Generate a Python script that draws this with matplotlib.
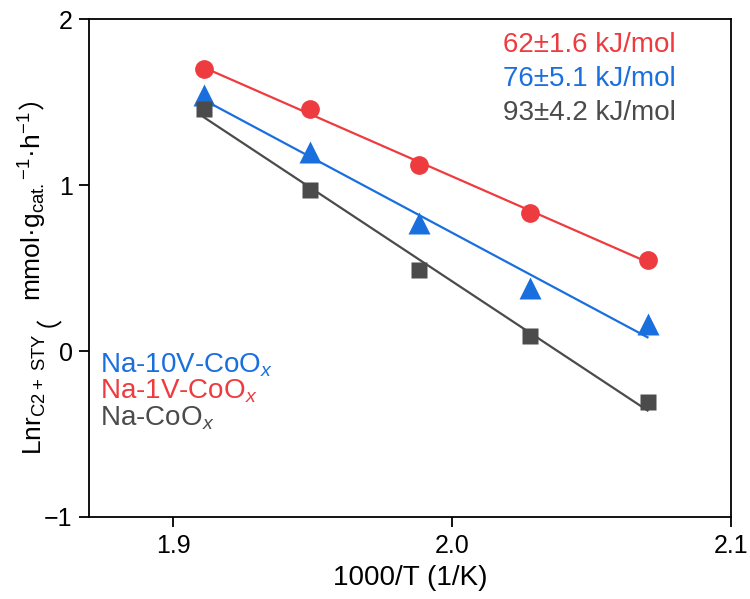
import numpy as np
import matplotlib
matplotlib.use("Agg")
import matplotlib.pyplot as plt

plt.rcParams['font.family'] = ['Liberation Sans', 'DejaVu Sans']
plt.rcParams['mathtext.fontset'] = 'custom'
plt.rcParams['mathtext.rm'] = 'Liberation Sans'
plt.rcParams['mathtext.it'] = 'Liberation Sans:italic'

# 1000/T values and ln(STY) for each catalyst
inv_t = [1.911, 1.949, 1.988, 2.028, 2.070]
ln_1v = [1.70, 1.46, 1.12, 0.83, 0.55]
ln_10v = [1.54, 1.20, 0.77, 0.38, 0.16]
ln_base = [1.46, 0.97, 0.49, 0.09, -0.31]

labels = ['Na-10V-CoO$_{\\it{x}}$', 'Na-1V-CoO$_{\\it{x}}$', 'Na-CoO$_{\\it{x}}$']
energies = ['62±1.6 kJ/mol', '76±5.1 kJ/mol', '93±4.2 kJ/mol']

red = '#EE3B3F'
blue = '#1A6FDF'
gray = '#4B4B4B'

fig = plt.figure(figsize=(7.5, 5.99), dpi=100)
ax = fig.add_axes([0.119, 0.137, 0.856, 0.831])

x = np.array(inv_t)
for y, c, m, ms in [(ln_1v, red, 'o', 13.5), (ln_10v, blue, '^', 16), (ln_base, gray, 's', 11.5)]:
    k, b = np.polyfit(x, y, 1)
    ax.plot(x, k * x + b, color=c, lw=1.6, zorder=2)
    ax.plot(x, y, m, color=c, ms=ms, mec='none', zorder=3)

ax.set_xlim(1.87, 2.1)
ax.set_ylim(-1, 2)
ax.set_xticks([1.9, 2.0, 2.1])
ax.set_xticklabels(['1.9', '2.0', '2.1'])
ax.set_yticks([-1, 0, 1, 2])
ax.tick_params(direction='out', length=7, width=1.3, labelsize=18, pad=5)
for s in ax.spines.values():
    s.set_linewidth(1.3)

ax.set_xlabel('1000/T (1/K)', fontsize=20, labelpad=5)

# y label: latin parts in Liberation Sans, full-width brackets in Noto Sans CJK
# (text, font family, gap in px before the piece)
cjk = ['Noto Sans CJK SC', 'DejaVu Sans']
pieces = [('Lnr$_{\\mathrm{C2+\\ STY}}$', None, 0),
          ('（', cjk, 6),
          ('mmol·g$_{\\mathrm{cat.}}$$^{\\mathrm{-1}}$·h$^{\\mathrm{-1}}$', None, 0),
          ('）', cjk, 2)]
renderer = fig.canvas.get_renderer()
y0 = 0.241
for txt, fam, gap in pieces:
    kw = {'family': fam} if fam else {}
    y0 += gap / fig.bbox.height
    t = fig.text(0.0556, y0, txt, rotation=90, rotation_mode='anchor',
                 ha='left', va='baseline', fontsize=19, **kw)
    bb = t.get_window_extent(renderer)
    y0 += bb.height / fig.bbox.height

for i, (t, c) in enumerate(zip(energies, [red, blue, gray])):
    ax.text(0.913, 0.948 - i * 0.068, t, color=c, fontsize=20, ha='right', va='center',
            transform=ax.transAxes)

for i, (t, c) in enumerate(zip(labels, [blue, red, gray])):
    ax.text(0.017, 0.305 - i * 0.053, t, color=c, fontsize=20, ha='left', va='center',
            transform=ax.transAxes)

fig.savefig('out.png', dpi=100)
